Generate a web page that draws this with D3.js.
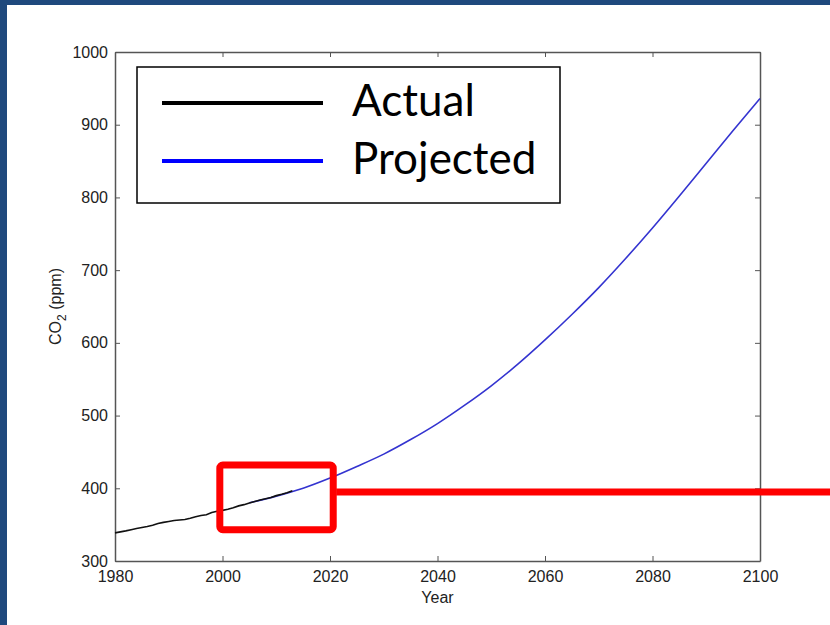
<!DOCTYPE html>
<html>
<head>
<meta charset="utf-8">
<script src="https://cdn.jsdelivr.net/npm/d3@7"></script>
<style>
  body { margin: 0; background: #fff; }
  svg { display: block; }
  .tick text { font-family: "Liberation Sans", Arial, sans-serif; font-size: 16px; fill: #222; }
</style>
</head>
<body>
<svg id="chart" width="830" height="625"></svg>
<script>
// measured annual means (ppm)
var actualYears = [1980, 1981, 1982, 1983, 1984, 1985, 1986, 1987, 1988, 1989,
                   1990, 1991, 1992, 1993, 1994, 1995, 1996, 1997, 1998, 1999,
                   2000, 2001, 2002, 2003, 2004, 2005, 2006, 2007, 2008, 2009,
                   2010, 2011, 2012, 2013];
var actualCO2 = [338.7, 340.1, 341.4, 343.0, 344.6, 346.0, 347.4, 349.2, 351.6, 353.1,
                 354.4, 355.6, 356.4, 357.1, 358.8, 360.8, 362.6, 363.7, 366.7, 368.4,
                 369.6, 371.1, 373.2, 375.8, 377.5, 379.8, 381.9, 383.8, 385.6, 387.4,
                 389.9, 391.7, 393.9, 396.5];

// projection
var projYears = [2005, 2010, 2015, 2020, 2025, 2030, 2035, 2040, 2045, 2050,
                 2055, 2060, 2065, 2070, 2075, 2080, 2085, 2090, 2095, 2100];
var projCO2 = [380, 389, 400, 414, 430, 447, 467, 489, 514, 541,
               571, 604, 639, 676, 716, 758, 802, 847, 892, 936];

var xTicks = [1980, 2000, 2020, 2040, 2060, 2080, 2100];
var yTicks = [300, 400, 500, 600, 700, 800, 900, 1000];

// highlighted region (year / ppm) and the level of its pointer
var zoomX = [1999.5, 2020.6];
var zoomY = [343, 432];
var pointerLevel = 395;

var svg = d3.select("#chart");

// slide frame
svg.append("rect").attr("x", 0).attr("y", 0).attr("width", 830).attr("height", 5).attr("fill", "#1f497d");
svg.append("rect").attr("x", 0).attr("y", 0).attr("width", 7).attr("height", 625).attr("fill", "#1f497d");

var plot = { left: 115, right: 760, top: 52, bottom: 561 };

var x = d3.scaleLinear().domain([1980, 2100]).range([plot.left, plot.right]);
var y = d3.scaleLinear().domain([300, 1000]).range([plot.bottom, plot.top]);

var axisColor = "#555";

// axes, ticks pointing inward on all four sides
var gx = svg.append("g").attr("transform", "translate(0," + plot.bottom + ")")
    .call(d3.axisBottom(x).tickValues(xTicks).tickFormat(d3.format("d")).tickSizeInner(-5).tickSizeOuter(0).tickPadding(10));
var gy = svg.append("g").attr("transform", "translate(" + plot.left + ",0)")
    .call(d3.axisLeft(y).tickValues(yTicks).tickFormat(d3.format("d")).tickSizeInner(-5).tickSizeOuter(0).tickPadding(7));
var gt = svg.append("g").attr("transform", "translate(0," + plot.top + ")")
    .call(d3.axisTop(x).tickValues(xTicks).tickSizeInner(-5).tickSizeOuter(0).tickFormat(""));
var gr = svg.append("g").attr("transform", "translate(" + plot.right + ",0)")
    .call(d3.axisRight(y).tickValues(yTicks).tickSizeInner(-5).tickSizeOuter(0).tickFormat(""));

[gx, gy, gt, gr].forEach(function (g) {
    g.select(".domain").attr("stroke", axisColor).attr("stroke-width", 1.5);
    g.selectAll(".tick line").attr("stroke", axisColor);
});

// axis titles
svg.append("text")
    .attr("x", (plot.left + plot.right) / 2).attr("y", 603)
    .attr("text-anchor", "middle")
    .style("font-family", "Liberation Sans, Arial, sans-serif").style("font-size", "16px").style("fill", "#222")
    .text("Year");

var ylab = svg.append("text")
    .attr("transform", "translate(61," + (plot.top + plot.bottom) / 2 + ") rotate(-90)")
    .attr("text-anchor", "middle")
    .style("font-family", "Liberation Sans, Arial, sans-serif").style("font-size", "16px").style("fill", "#222");
ylab.append("tspan").text("CO");
ylab.append("tspan").attr("dy", 5).style("font-size", "12px").text("2");
ylab.append("tspan").attr("dy", -5).text(" (ppm)");

// lines
var line = d3.line()
    .x(function (d) { return x(d[0]); })
    .y(function (d) { return y(d[1]); });

svg.append("path")
    .datum(d3.zip(projYears, projCO2))
    .attr("fill", "none")
    .attr("stroke", "#3434d0")
    .attr("stroke-width", 1.6)
    .attr("d", line.curve(d3.curveMonotoneX));

svg.append("path")
    .datum(d3.zip(actualYears, actualCO2))
    .attr("fill", "none")
    .attr("stroke", "#111")
    .attr("stroke-width", 1.6)
    .attr("d", line.curve(d3.curveLinear));

// legend
var legend = svg.append("g");
legend.append("rect")
    .attr("x", 137).attr("y", 67).attr("width", 423).attr("height", 136)
    .attr("fill", "#fff").attr("stroke", "#000").attr("stroke-width", 1.5);

var legendItems = [["Actual", "#000"], ["Projected", "#0000ff"]];
legendItems.forEach(function (d, i) {
    var ly = 103 + i * 58;
    legend.append("line")
        .attr("x1", 162).attr("x2", 323).attr("y1", ly).attr("y2", ly)
        .attr("stroke", d[1]).attr("stroke-width", 4);
    legend.append("text")
        .attr("x", 352).attr("y", ly + 13)
        .style("font-family", "Lato, sans-serif").style("font-size", "44px").style("fill", "#000")
        .text(d[0]);
});

// highlight box and pointer
svg.append("rect")
    .attr("x", x(zoomX[0])).attr("y", y(zoomY[1]))
    .attr("width", x(zoomX[1]) - x(zoomX[0]))
    .attr("height", y(zoomY[0]) - y(zoomY[1]))
    .attr("rx", 3)
    .attr("fill", "none").attr("stroke", "#ff0000").attr("stroke-width", 7);

svg.append("line")
    .attr("x1", x(zoomX[1]) + 3).attr("x2", 830)
    .attr("y1", y(pointerLevel)).attr("y2", y(pointerLevel))
    .attr("stroke", "#ff0000").attr("stroke-width", 7);
</script>
</body>
</html>
